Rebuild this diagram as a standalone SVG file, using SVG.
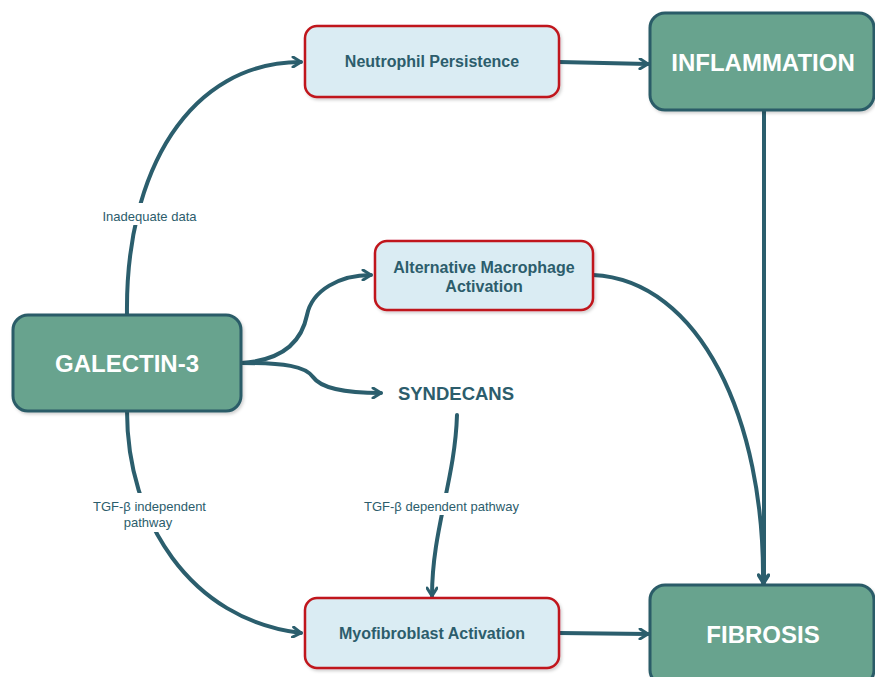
<svg xmlns="http://www.w3.org/2000/svg" width="875" height="677" viewBox="0 0 875 677">
<defs>
<marker id="arr" viewBox="0 0 12 12" refX="10" refY="6" markerWidth="12" markerHeight="12" markerUnits="userSpaceOnUse" orient="auto">
<path d="M2,1 L10,6 L2,11" fill="none" stroke="#2b5e6d" stroke-width="3" stroke-linecap="round" stroke-linejoin="round"/>
</marker>
<filter id="sh" x="-10%" y="-10%" width="130%" height="130%">
<feDropShadow dx="1.5" dy="2" stdDeviation="1.5" flood-color="#000" flood-opacity="0.18"/>
</filter>
</defs>
<style>
.big{fill:#67a38e;stroke:#2b5b67;stroke-width:3;filter:url(#sh)}
.small{fill:#daecf3;stroke:#c0141b;stroke-width:2.5;filter:url(#sh)}
.bt{font-family:"Liberation Sans",Arial,sans-serif;font-weight:bold;fill:#ffffff;text-anchor:middle;font-size:24px}
.st{font-family:"Liberation Sans",Arial,sans-serif;font-weight:bold;fill:#2c5d6c;text-anchor:middle;font-size:16px}
.syn{font-family:"Liberation Sans",Arial,sans-serif;font-weight:bold;fill:#2c5d6c;text-anchor:middle;font-size:18.5px}
.lab{font-family:"Liberation Sans",Arial,sans-serif;fill:#2c5d6c;text-anchor:middle;font-size:13px}
.c{fill:none;stroke:#2b5e6d;stroke-width:4;stroke-linecap:round}
</style>
<rect width="875" height="677" fill="#ffffff"/>
<g id="connectors">
<path class="c" d="M127,315 C125,170 190,62 301,62" marker-end="url(#arr)"/>
<path class="c" d="M559,62 L648,64" marker-end="url(#arr)"/>
<path class="c" d="M764,110 L764,583" marker-end="url(#arr)"/>
<path class="c" d="M593,275 C700,280 765,420 763,583" marker-end="url(#arr)"/>
<path class="c" d="M241,363 C290,360 303,335 307,315 C312,290 340,275 371,275" marker-end="url(#arr)"/>
<path class="c" d="M241,363 C285,363 305,366 313,377 C322,390 350,393 381,393" marker-end="url(#arr)"/>
<path class="c" d="M457,415 C455,480 432,530 432,596" marker-end="url(#arr)"/>
<path class="c" d="M127,411 C127,520 190,620 301,633" marker-end="url(#arr)"/>
<path class="c" d="M559,633 L648,634" marker-end="url(#arr)"/>
<rect x="92" y="203" width="116" height="22" fill="#ffffff"/>
<rect x="84" y="493" width="132" height="39" fill="#ffffff"/>
<rect x="354" y="493" width="175" height="22" fill="#ffffff"/>
<text class="lab" x="149.5" y="221">Inadequate data</text>
<text class="lab" x="149.5" y="511">TGF-β independent</text>
<text class="lab" x="148" y="527">pathway</text>
<text class="lab" x="441.5" y="511">TGF-β dependent pathway</text>
</g>
<g id="galectin3">
<rect class="big" x="13" y="315" width="228" height="96" rx="15"/>
<text class="bt" x="127" y="372">GALECTIN-3</text>
</g>
<g id="inflammation">
<rect class="big" x="650" y="13" width="224" height="97" rx="15"/>
<text class="bt" x="763" y="71">INFLAMMATION</text>
</g>
<g id="fibrosis">
<rect class="big" x="650" y="585" width="224" height="100" rx="15"/>
<text class="bt" x="763" y="643">FIBROSIS</text>
</g>
<g id="neutrophil">
<rect class="small" x="305" y="26" width="254" height="71" rx="12"/>
<text class="st" x="432" y="67">Neutrophil Persistence</text>
</g>
<g id="macrophage">
<rect class="small" x="375" y="241" width="218" height="69" rx="12"/>
<text class="st" x="484" y="273">Alternative Macrophage</text>
<text class="st" x="484" y="292">Activation</text>
</g>
<g id="syndecans">
<text class="syn" x="456" y="400">SYNDECANS</text>
</g>
<g id="myofibroblast">
<rect class="small" x="305" y="598" width="254" height="70" rx="12"/>
<text class="st" x="432" y="639">Myofibroblast Activation</text>
</g>
</svg>
